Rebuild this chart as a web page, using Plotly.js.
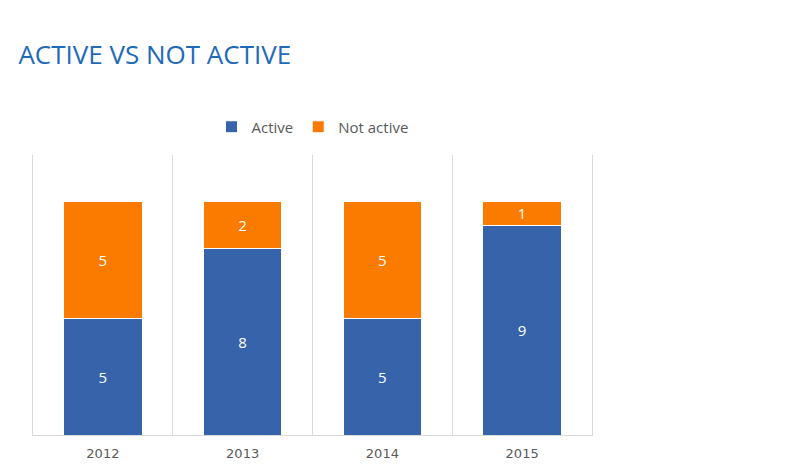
<!DOCTYPE html>
<html>
<head>
<meta charset="utf-8">
<script src="https://cdn.plot.ly/plotly-3.0.1.min.js"></script>
<style>html,body{margin:0;padding:0;background:#fff;}#chart{width:799px;height:471px;}</style>
</head>
<body>
<div id="chart"></div>
<script>
const years = ["2012", "2013", "2014", "2015"];
const active = [5, 8, 5, 9];
const notActive = [5, 2, 5, 1];
const seriesNames = ["Active", "Not active"];
const boundaries = [-0.5, 0.5, 1.5, 2.5, 3.5];

const lineStyle = {color: "#ffffff", width: 1};
const labelFont = {family: "Open Sans, sans-serif", size: 15, color: "#ffffff"};

const traces = [
  {type: "bar", name: seriesNames[0], x: years, y: active, text: active.map(String),
   textposition: "inside", insidetextanchor: "middle", textangle: 0, constraintext: "none",
   textfont: labelFont, marker: {color: "#3763AA", line: lineStyle}, width: 0.56},
  {type: "bar", name: seriesNames[1], x: years, y: notActive, text: notActive.map(String),
   textposition: "inside", insidetextanchor: "middle", textangle: 0, constraintext: "none",
   textfont: labelFont, marker: {color: "#FA7B00", line: lineStyle}, width: 0.56},
  {type: "scatter", mode: "markers", x: [0], y: [0], xaxis: "x2", yaxis: "y",
   marker: {opacity: 0}, showlegend: false, hoverinfo: "skip"}
];

const layout = {
  width: 799, height: 471,
  margin: {l: 33, r: 207, t: 155, b: 36},
  barmode: "stack",
  paper_bgcolor: "#ffffff", plot_bgcolor: "#ffffff",
  title: {text: "ACTIVE VS NOT ACTIVE", x: 0.023, xref: "container", xanchor: "left",
          y: 0.883, yref: "container", yanchor: "middle",
          font: {family: "Open Sans, sans-serif", size: 26, color: "#1F6AB8"}},
  legend: {orientation: "h", x: 0.5, xanchor: "center", y: 1.1, yanchor: "middle",
           font: {family: "Open Sans, sans-serif", size: 15, color: "#595959"},
           itemwidth: 30, traceorder: "normal"},
  xaxis: {type: "category", range: [-0.5, 3.5],
          showgrid: false,
          showline: true, linecolor: "#d9d9d9", linewidth: 1,
          ticks: "", ticklabelstandoff: 6,
          tickfont: {family: "DejaVu Sans, sans-serif", size: 13, color: "#595959"},
          fixedrange: true},
  xaxis2: {overlaying: "x", anchor: "y", range: [-0.5, 3.5], tickvals: boundaries,
           showgrid: true, gridcolor: "#d9d9d9", gridwidth: 1,
           showticklabels: false, ticks: "", zeroline: false, showline: false,
           fixedrange: true},
  yaxis: {range: [0, 12], showgrid: false, showticklabels: false, zeroline: false,
          showline: true, mirror: true, linecolor: "#d9d9d9", linewidth: 1,
          ticks: "", fixedrange: true},
  showlegend: true
};

Plotly.newPlot("chart", traces, layout, {displayModeBar: false, staticPlot: true});
</script>
</body>
</html>
